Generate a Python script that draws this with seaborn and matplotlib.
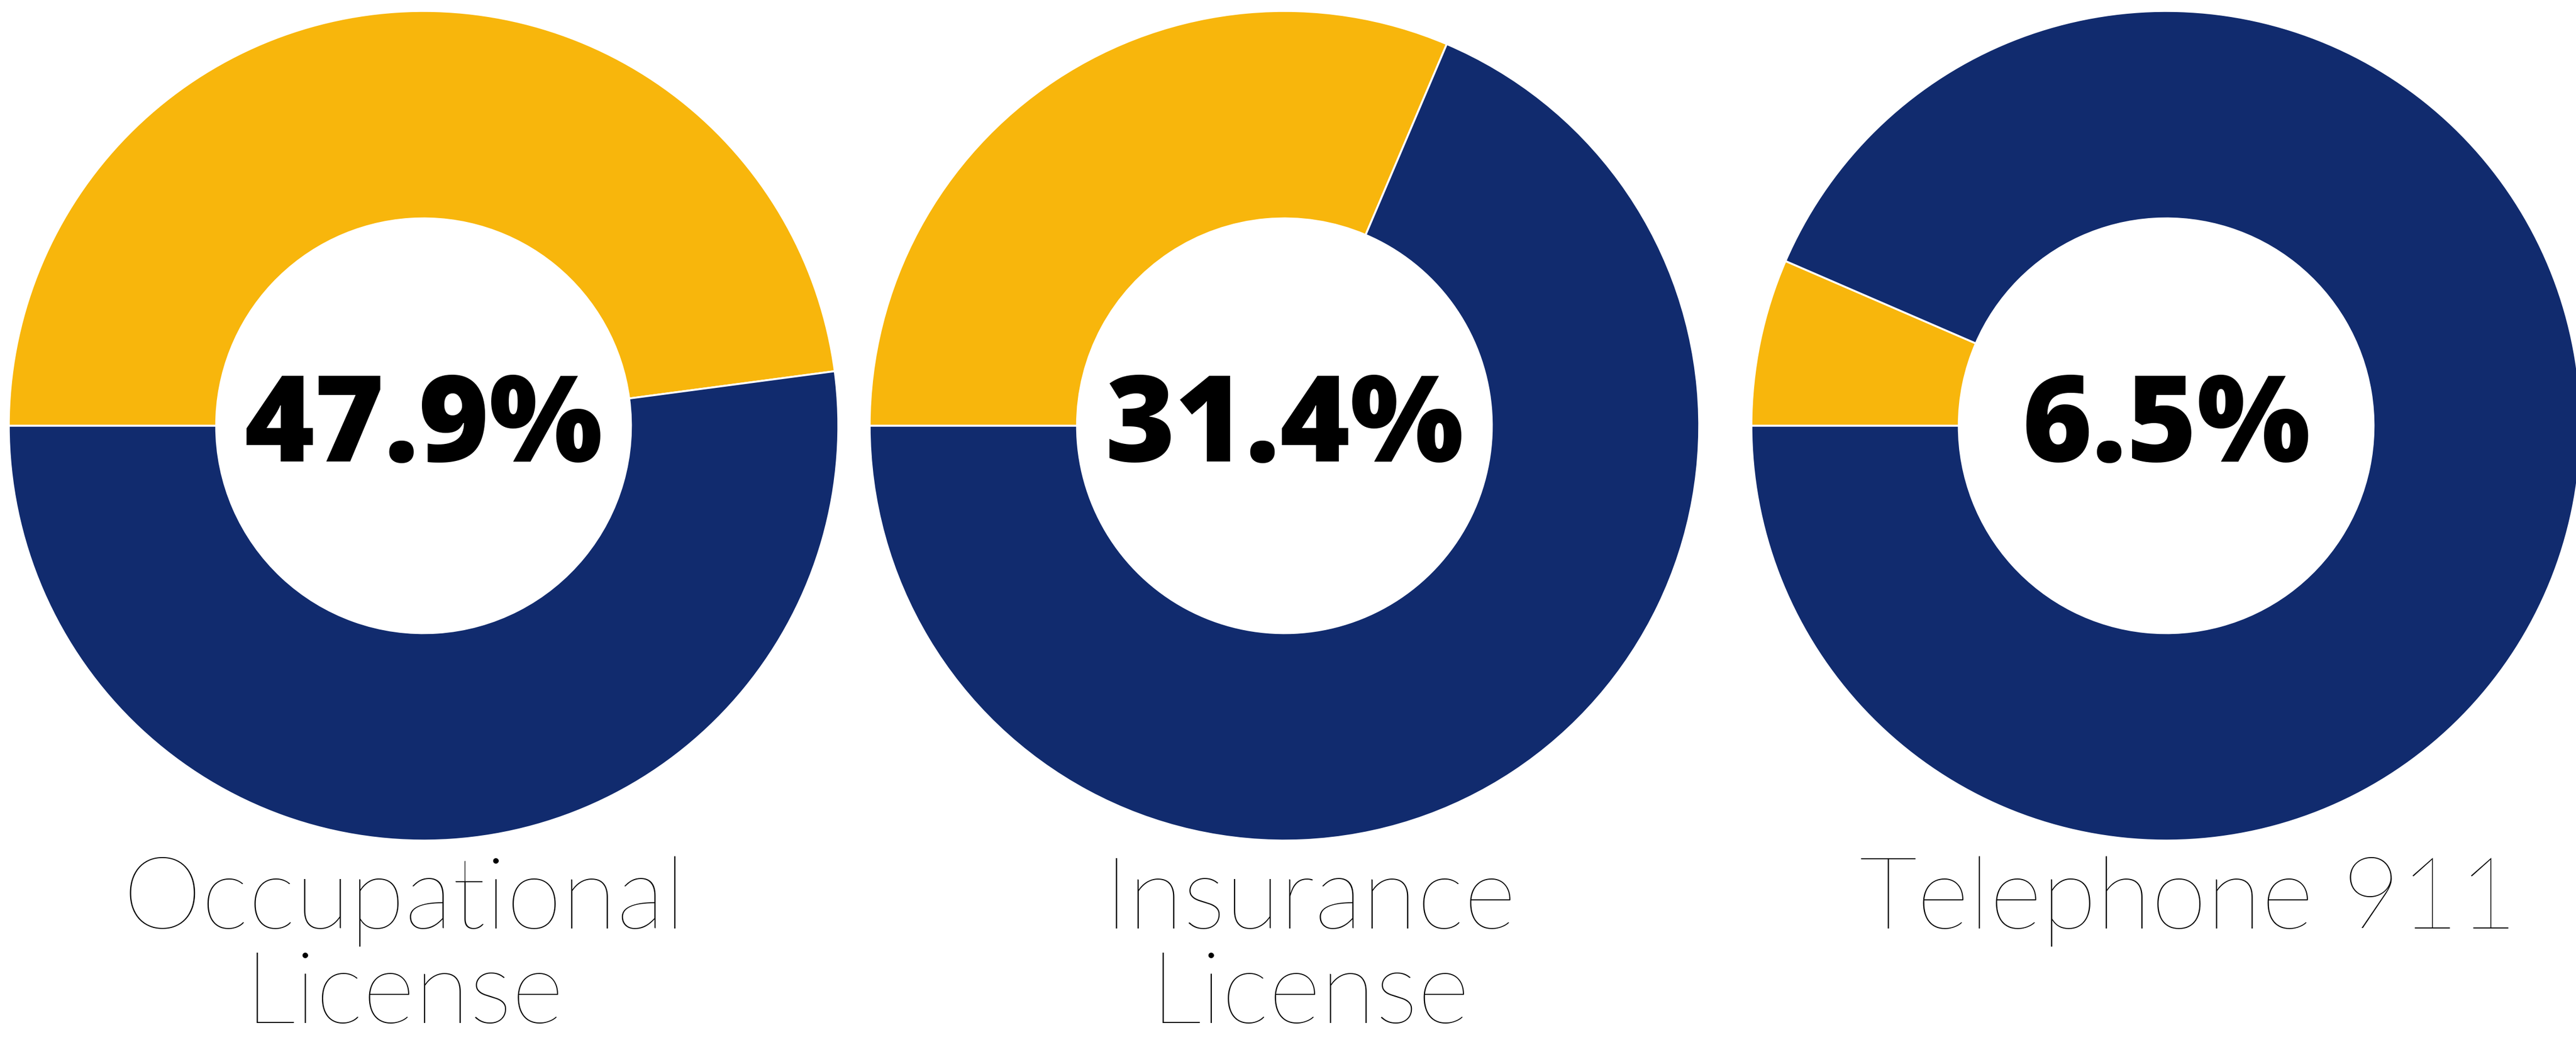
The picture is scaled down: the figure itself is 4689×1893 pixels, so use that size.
import numpy as np
import seaborn as sns
from matplotlib import pyplot as plt

# shares answered "yes" per item (yellow), rest navy
categories = ["Occupational License", "Insurance License", "Telephone 911"]
label_lines = [["Occupational", "License"], ["Insurance", "License"], ["Telephone 911"]]
percent = [47.9, 31.4, 6.5]

YELLOW = '#F8B60C'
NAVY = '#112B6E'

sns.set_theme(style='white')
plt.rcParams['font.family'] = ['Lato', 'DejaVu Sans']

W, H = 4689, 1893
fig = plt.figure(figsize=(W / 100, H / 100), dpi=100)
fig.patch.set_facecolor('white')

# donut geometry in pixels
centers_x = [771, 2338, 3943]
center_y = 775
R = 755
label_x = [736, 2385, 3984]

for i, cat in enumerate(categories):
    cx = centers_x[i]
    ax = fig.add_axes([(cx - R) / W, 1 - (center_y + R) / H, 2 * R / W, 2 * R / H])
    vals = [percent[i], 100 - percent[i]]
    ax.pie(vals, colors=[YELLOW, NAVY], startangle=180, counterclock=False,
           radius=1, wedgeprops=dict(width=0.5, edgecolor='white', linewidth=2.5))
    ax.set_xlim(-1, 1)
    ax.set_ylim(-1, 1)
    ax.set_aspect('equal')
    ax.axis('off')
    ax.set_clip_on(False)

    # big number in the hole
    fig.text(cx / W, 1 - 840 / H, f"{percent[i]}%", ha='center', va='baseline',
             fontsize=157, fontweight=800, color='black',
             family=['Open Sans', 'Lato', 'DejaVu Sans'])

    # category name under the donut
    for j, line in enumerate(label_lines[i]):
        base = 1690 + j * 172
        fig.text(label_x[i] / W, 1 - base / H, line, ha='center', va='baseline',
                 fontsize=132, fontweight=100, color='black')

fig.savefig('out.png', dpi=100, facecolor='white')
